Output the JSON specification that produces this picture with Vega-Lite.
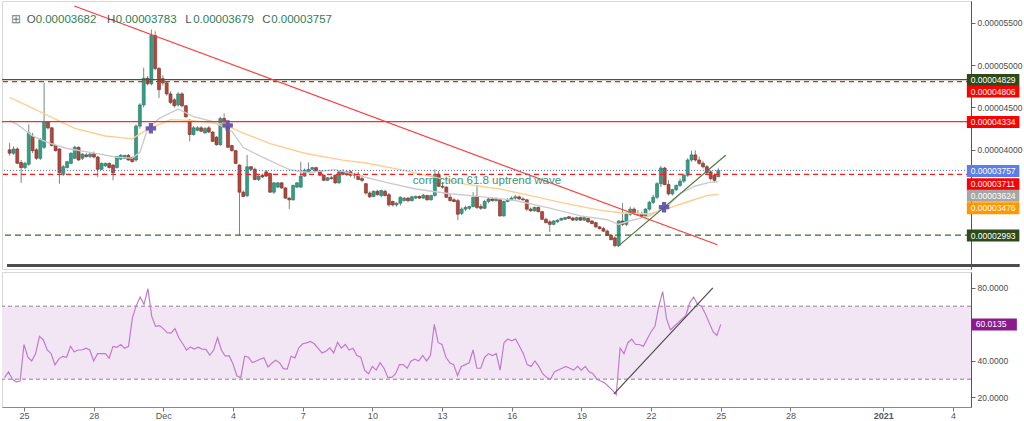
{
"$schema": "https://vega.github.io/schema/vega-lite/v6.json",
"padding": 0,
"background": "#ffffff",
"spacing": 1,
"config": {"font": "Liberation Sans", "view": {"stroke": "#d8d8d8"}, "axis": {"grid": false, "labelFont": "Liberation Sans"}},
"resolve": {"scale": {"x": "independent", "y": "independent"}},
"datasets": {
"candles": [
{"t":"2020-11-24T04:00Z","o":4000,"h":4080,"l":3930,"c":3960,"rsi":31},
{"t":"2020-11-24T08:00Z","o":3960,"h":4040,"l":3940,"c":4010,"rsi":34},
{"t":"2020-11-24T12:00Z","o":4010,"h":4030,"l":3830,"c":3842,"rsi":30},
{"t":"2020-11-24T16:00Z","o":3850,"h":3880,"l":3610,"c":3790,"rsi":28.6},
{"t":"2020-11-24T20:00Z","o":3790,"h":3860,"l":3770,"c":3840,"rsi":29},
{"t":"2020-11-25T00:00Z","o":3830,"h":4300,"l":3810,"c":4200,"rsi":49},
{"t":"2020-11-25T04:00Z","o":4160,"h":4200,"l":3960,"c":3990,"rsi":42},
{"t":"2020-11-25T08:00Z","o":4000,"h":4020,"l":3880,"c":3900,"rsi":40},
{"t":"2020-11-25T12:00Z","o":3900,"h":4140,"l":3880,"c":4120,"rsi":44},
{"t":"2020-11-25T16:00Z","o":4030,"h":4790,"l":4010,"c":4330,"rsi":53.5},
{"t":"2020-11-25T20:00Z","o":4330,"h":4340,"l":4240,"c":4260,"rsi":51.5},
{"t":"2020-11-26T00:00Z","o":4260,"h":4270,"l":4040,"c":4050,"rsi":46},
{"t":"2020-11-26T04:00Z","o":4050,"h":4060,"l":3980,"c":3990,"rsi":44},
{"t":"2020-11-26T08:00Z","o":4010,"h":4020,"l":3600,"c":3730,"rsi":37.8},
{"t":"2020-11-26T12:00Z","o":3710,"h":3820,"l":3690,"c":3800,"rsi":41},
{"t":"2020-11-26T16:00Z","o":3790,"h":3870,"l":3780,"c":3860,"rsi":42.5},
{"t":"2020-11-26T20:00Z","o":3840,"h":3970,"l":3830,"c":3960,"rsi":42},
{"t":"2020-11-27T00:00Z","o":3900,"h":4050,"l":3890,"c":4030,"rsi":48},
{"t":"2020-11-27T04:00Z","o":4030,"h":4040,"l":3870,"c":3880,"rsi":45},
{"t":"2020-11-27T08:00Z","o":3900,"h":3960,"l":3880,"c":3950,"rsi":46},
{"t":"2020-11-27T12:00Z","o":3940,"h":3960,"l":3910,"c":3920,"rsi":46},
{"t":"2020-11-27T16:00Z","o":3920,"h":3960,"l":3900,"c":3950,"rsi":47},
{"t":"2020-11-27T20:00Z","o":3955,"h":3980,"l":3900,"c":3915,"rsi":46},
{"t":"2020-11-28T00:00Z","o":3915,"h":3930,"l":3680,"c":3770,"rsi":40},
{"t":"2020-11-28T04:00Z","o":3770,"h":3850,"l":3760,"c":3840,"rsi":44},
{"t":"2020-11-28T08:00Z","o":3810,"h":3850,"l":3800,"c":3840,"rsi":44},
{"t":"2020-11-28T12:00Z","o":3840,"h":3850,"l":3780,"c":3790,"rsi":44},
{"t":"2020-11-28T16:00Z","o":3820,"h":3830,"l":3640,"c":3730,"rsi":41.5},
{"t":"2020-11-28T20:00Z","o":3790,"h":3930,"l":3780,"c":3920,"rsi":48},
{"t":"2020-11-29T00:00Z","o":3890,"h":3950,"l":3880,"c":3935,"rsi":47.5},
{"t":"2020-11-29T04:00Z","o":3900,"h":3940,"l":3890,"c":3935,"rsi":49},
{"t":"2020-11-29T08:00Z","o":3935,"h":3950,"l":3870,"c":3880,"rsi":47},
{"t":"2020-11-29T12:00Z","o":3910,"h":3920,"l":3850,"c":3860,"rsi":48},
{"t":"2020-11-29T16:00Z","o":3880,"h":4300,"l":3860,"c":4280,"rsi":63.6},
{"t":"2020-11-29T20:00Z","o":4280,"h":4550,"l":4250,"c":4530,"rsi":70.3},
{"t":"2020-11-30T00:00Z","o":4530,"h":4970,"l":4500,"c":4845,"rsi":75},
{"t":"2020-11-30T04:00Z","o":4845,"h":4870,"l":4760,"c":4780,"rsi":71},
{"t":"2020-11-30T08:00Z","o":4780,"h":5420,"l":4760,"c":5350,"rsi":79.6},
{"t":"2020-11-30T12:00Z","o":5350,"h":5400,"l":4940,"c":4960,"rsi":64.4},
{"t":"2020-11-30T16:00Z","o":4960,"h":4980,"l":4610,"c":4710,"rsi":59},
{"t":"2020-11-30T20:00Z","o":4840,"h":4880,"l":4760,"c":4790,"rsi":59.4},
{"t":"2020-12-01T00:00Z","o":4790,"h":4810,"l":4640,"c":4660,"rsi":57.7},
{"t":"2020-12-01T04:00Z","o":4660,"h":4690,"l":4540,"c":4560,"rsi":55.5},
{"t":"2020-12-01T08:00Z","o":4590,"h":4610,"l":4500,"c":4520,"rsi":55.2},
{"t":"2020-12-01T12:00Z","o":4530,"h":4680,"l":4510,"c":4660,"rsi":57.7},
{"t":"2020-12-01T16:00Z","o":4660,"h":4680,"l":4500,"c":4520,"rsi":52.7},
{"t":"2020-12-01T20:00Z","o":4520,"h":4530,"l":4380,"c":4390,"rsi":49.4},
{"t":"2020-12-02T00:00Z","o":4350,"h":4360,"l":4100,"c":4180,"rsi":46},
{"t":"2020-12-02T04:00Z","o":4180,"h":4280,"l":4170,"c":4260,"rsi":47.7},
{"t":"2020-12-02T08:00Z","o":4230,"h":4280,"l":4220,"c":4260,"rsi":46.5},
{"t":"2020-12-02T12:00Z","o":4260,"h":4280,"l":4210,"c":4220,"rsi":47.5},
{"t":"2020-12-02T16:00Z","o":4200,"h":4270,"l":4190,"c":4250,"rsi":46.5},
{"t":"2020-12-02T20:00Z","o":4260,"h":4280,"l":4200,"c":4210,"rsi":46.3},
{"t":"2020-12-03T00:00Z","o":4210,"h":4220,"l":4090,"c":4100,"rsi":43.1},
{"t":"2020-12-03T04:00Z","o":4150,"h":4160,"l":4050,"c":4060,"rsi":46},
{"t":"2020-12-03T08:00Z","o":4060,"h":4390,"l":4050,"c":4370,"rsi":52.7},
{"t":"2020-12-03T12:00Z","o":4370,"h":4430,"l":4320,"c":4330,"rsi":46},
{"t":"2020-12-03T16:00Z","o":4290,"h":4300,"l":4020,"c":4030,"rsi":42.6},
{"t":"2020-12-03T20:00Z","o":4050,"h":4060,"l":3980,"c":3990,"rsi":42.9},
{"t":"2020-12-04T00:00Z","o":3990,"h":4000,"l":3830,"c":3840,"rsi":38.3},
{"t":"2020-12-04T04:00Z","o":3820,"h":3830,"l":2993,"c":3500,"rsi":31.9},
{"t":"2020-12-04T08:00Z","o":3500,"h":3520,"l":3440,"c":3450,"rsi":30.8},
{"t":"2020-12-04T12:00Z","o":3460,"h":3940,"l":3440,"c":3800,"rsi":42.6},
{"t":"2020-12-04T16:00Z","o":3800,"h":3810,"l":3750,"c":3770,"rsi":42},
{"t":"2020-12-04T20:00Z","o":3770,"h":3790,"l":3640,"c":3650,"rsi":39.1},
{"t":"2020-12-05T00:00Z","o":3650,"h":3700,"l":3630,"c":3690,"rsi":40},
{"t":"2020-12-05T04:00Z","o":3700,"h":3720,"l":3670,"c":3680,"rsi":40.9},
{"t":"2020-12-05T08:00Z","o":3740,"h":3760,"l":3680,"c":3690,"rsi":41.7},
{"t":"2020-12-05T12:00Z","o":3720,"h":3730,"l":3490,"c":3500,"rsi":36.7},
{"t":"2020-12-05T16:00Z","o":3500,"h":3620,"l":3480,"c":3610,"rsi":38.7},
{"t":"2020-12-05T20:00Z","o":3560,"h":3620,"l":3550,"c":3610,"rsi":40.4},
{"t":"2020-12-06T00:00Z","o":3610,"h":3620,"l":3540,"c":3550,"rsi":39.1},
{"t":"2020-12-06T04:00Z","o":3550,"h":3560,"l":3420,"c":3430,"rsi":35.8},
{"t":"2020-12-06T08:00Z","o":3430,"h":3440,"l":3300,"c":3410,"rsi":35.5},
{"t":"2020-12-06T12:00Z","o":3410,"h":3590,"l":3400,"c":3580,"rsi":42.6},
{"t":"2020-12-06T16:00Z","o":3560,"h":3620,"l":3550,"c":3610,"rsi":41.7},
{"t":"2020-12-06T20:00Z","o":3560,"h":3860,"l":3550,"c":3690,"rsi":47.2},
{"t":"2020-12-07T00:00Z","o":3690,"h":3780,"l":3680,"c":3760,"rsi":49.4},
{"t":"2020-12-07T04:00Z","o":3740,"h":3850,"l":3730,"c":3770,"rsi":49.9},
{"t":"2020-12-07T08:00Z","o":3770,"h":3800,"l":3760,"c":3790,"rsi":50.7},
{"t":"2020-12-07T12:00Z","o":3790,"h":3800,"l":3740,"c":3750,"rsi":49.4},
{"t":"2020-12-07T16:00Z","o":3750,"h":3760,"l":3690,"c":3700,"rsi":46.9},
{"t":"2020-12-07T20:00Z","o":3700,"h":3710,"l":3630,"c":3640,"rsi":44.4},
{"t":"2020-12-08T00:00Z","o":3640,"h":3680,"l":3630,"c":3670,"rsi":45.3},
{"t":"2020-12-08T04:00Z","o":3670,"h":3690,"l":3650,"c":3660,"rsi":47.2},
{"t":"2020-12-08T08:00Z","o":3700,"h":3710,"l":3600,"c":3610,"rsi":44.4},
{"t":"2020-12-08T12:00Z","o":3610,"h":3760,"l":3600,"c":3740,"rsi":50.2},
{"t":"2020-12-08T16:00Z","o":3740,"h":3770,"l":3700,"c":3710,"rsi":47},
{"t":"2020-12-08T20:00Z","o":3710,"h":3760,"l":3690,"c":3740,"rsi":49},
{"t":"2020-12-09T00:00Z","o":3740,"h":3760,"l":3680,"c":3700,"rsi":46},
{"t":"2020-12-09T04:00Z","o":3700,"h":3730,"l":3660,"c":3710,"rsi":47},
{"t":"2020-12-09T08:00Z","o":3710,"h":3740,"l":3640,"c":3650,"rsi":43},
{"t":"2020-12-09T12:00Z","o":3660,"h":3700,"l":3620,"c":3640,"rsi":42},
{"t":"2020-12-09T16:00Z","o":3600,"h":3610,"l":3470,"c":3490,"rsi":35},
{"t":"2020-12-09T20:00Z","o":3490,"h":3510,"l":3430,"c":3445,"rsi":33},
{"t":"2020-12-10T00:00Z","o":3450,"h":3520,"l":3440,"c":3510,"rsi":37},
{"t":"2020-12-10T04:00Z","o":3510,"h":3530,"l":3460,"c":3470,"rsi":35},
{"t":"2020-12-10T08:00Z","o":3460,"h":3530,"l":3440,"c":3520,"rsi":39},
{"t":"2020-12-10T12:00Z","o":3510,"h":3530,"l":3450,"c":3460,"rsi":36},
{"t":"2020-12-10T16:00Z","o":3470,"h":3490,"l":3330,"c":3350,"rsi":31},
{"t":"2020-12-10T20:00Z","o":3390,"h":3400,"l":3330,"c":3350,"rsi":31},
{"t":"2020-12-11T00:00Z","o":3350,"h":3380,"l":3330,"c":3370,"rsi":33},
{"t":"2020-12-11T04:00Z","o":3370,"h":3450,"l":3340,"c":3440,"rsi":38},
{"t":"2020-12-11T08:00Z","o":3400,"h":3440,"l":3390,"c":3430,"rsi":38},
{"t":"2020-12-11T12:00Z","o":3430,"h":3440,"l":3380,"c":3400,"rsi":36},
{"t":"2020-12-11T16:00Z","o":3400,"h":3460,"l":3390,"c":3445,"rsi":40},
{"t":"2020-12-11T20:00Z","o":3430,"h":3460,"l":3420,"c":3450,"rsi":41},
{"t":"2020-12-12T00:00Z","o":3450,"h":3460,"l":3420,"c":3430,"rsi":40},
{"t":"2020-12-12T04:00Z","o":3430,"h":3480,"l":3420,"c":3465,"rsi":43},
{"t":"2020-12-12T08:00Z","o":3460,"h":3470,"l":3400,"c":3410,"rsi":40},
{"t":"2020-12-12T12:00Z","o":3410,"h":3470,"l":3400,"c":3460,"rsi":43},
{"t":"2020-12-12T16:00Z","o":3460,"h":3770,"l":3450,"c":3710,"rsi":60},
{"t":"2020-12-12T20:00Z","o":3710,"h":3750,"l":3560,"c":3570,"rsi":50},
{"t":"2020-12-13T00:00Z","o":3570,"h":3620,"l":3540,"c":3560,"rsi":49},
{"t":"2020-12-13T04:00Z","o":3560,"h":3570,"l":3430,"c":3440,"rsi":42},
{"t":"2020-12-13T08:00Z","o":3440,"h":3480,"l":3390,"c":3400,"rsi":39},
{"t":"2020-12-13T12:00Z","o":3410,"h":3430,"l":3380,"c":3390,"rsi":38},
{"t":"2020-12-13T16:00Z","o":3400,"h":3420,"l":3170,"c":3240,"rsi":32},
{"t":"2020-12-13T20:00Z","o":3250,"h":3320,"l":3230,"c":3300,"rsi":37},
{"t":"2020-12-14T00:00Z","o":3300,"h":3340,"l":3280,"c":3320,"rsi":38},
{"t":"2020-12-14T04:00Z","o":3310,"h":3340,"l":3290,"c":3330,"rsi":39},
{"t":"2020-12-14T08:00Z","o":3330,"h":3500,"l":3320,"c":3440,"rsi":46},
{"t":"2020-12-14T12:00Z","o":3450,"h":3580,"l":3300,"c":3320,"rsi":36},
{"t":"2020-12-14T16:00Z","o":3330,"h":3360,"l":3290,"c":3310,"rsi":36},
{"t":"2020-12-14T20:00Z","o":3310,"h":3410,"l":3300,"c":3390,"rsi":42},
{"t":"2020-12-15T00:00Z","o":3390,"h":3430,"l":3370,"c":3420,"rsi":44},
{"t":"2020-12-15T04:00Z","o":3420,"h":3440,"l":3390,"c":3400,"rsi":43},
{"t":"2020-12-15T08:00Z","o":3400,"h":3440,"l":3390,"c":3425,"rsi":44},
{"t":"2020-12-15T12:00Z","o":3410,"h":3420,"l":3210,"c":3220,"rsi":35},
{"t":"2020-12-15T16:00Z","o":3220,"h":3400,"l":3210,"c":3390,"rsi":50},
{"t":"2020-12-15T20:00Z","o":3390,"h":3430,"l":3380,"c":3410,"rsi":52},
{"t":"2020-12-16T00:00Z","o":3410,"h":3450,"l":3400,"c":3430,"rsi":51},
{"t":"2020-12-16T04:00Z","o":3430,"h":3470,"l":3410,"c":3445,"rsi":52},
{"t":"2020-12-16T08:00Z","o":3445,"h":3460,"l":3410,"c":3420,"rsi":48},
{"t":"2020-12-16T12:00Z","o":3420,"h":3440,"l":3400,"c":3410,"rsi":44},
{"t":"2020-12-16T16:00Z","o":3410,"h":3420,"l":3280,"c":3300,"rsi":38},
{"t":"2020-12-16T20:00Z","o":3300,"h":3320,"l":3270,"c":3280,"rsi":37},
{"t":"2020-12-17T00:00Z","o":3280,"h":3330,"l":3270,"c":3320,"rsi":40},
{"t":"2020-12-17T04:00Z","o":3320,"h":3330,"l":3260,"c":3270,"rsi":37},
{"t":"2020-12-17T08:00Z","o":3270,"h":3280,"l":3170,"c":3180,"rsi":33},
{"t":"2020-12-17T12:00Z","o":3180,"h":3200,"l":3130,"c":3140,"rsi":31},
{"t":"2020-12-17T16:00Z","o":3150,"h":3170,"l":3030,"c":3120,"rsi":30},
{"t":"2020-12-17T20:00Z","o":3120,"h":3170,"l":3110,"c":3160,"rsi":34},
{"t":"2020-12-18T00:00Z","o":3150,"h":3180,"l":3140,"c":3170,"rsi":35},
{"t":"2020-12-18T04:00Z","o":3170,"h":3200,"l":3160,"c":3190,"rsi":36},
{"t":"2020-12-18T08:00Z","o":3180,"h":3210,"l":3170,"c":3200,"rsi":37},
{"t":"2020-12-18T12:00Z","o":3210,"h":3220,"l":3180,"c":3190,"rsi":36},
{"t":"2020-12-18T16:00Z","o":3195,"h":3210,"l":3160,"c":3170,"rsi":35},
{"t":"2020-12-18T20:00Z","o":3170,"h":3210,"l":3160,"c":3200,"rsi":37},
{"t":"2020-12-19T00:00Z","o":3200,"h":3210,"l":3160,"c":3170,"rsi":35},
{"t":"2020-12-19T04:00Z","o":3170,"h":3210,"l":3160,"c":3200,"rsi":37},
{"t":"2020-12-19T08:00Z","o":3190,"h":3200,"l":3140,"c":3150,"rsi":34},
{"t":"2020-12-19T12:00Z","o":3160,"h":3170,"l":3120,"c":3130,"rsi":33},
{"t":"2020-12-19T16:00Z","o":3140,"h":3150,"l":3080,"c":3090,"rsi":30},
{"t":"2020-12-19T20:00Z","o":3090,"h":3100,"l":3060,"c":3070,"rsi":29},
{"t":"2020-12-20T00:00Z","o":3070,"h":3090,"l":3030,"c":3040,"rsi":28},
{"t":"2020-12-20T04:00Z","o":3040,"h":3060,"l":2980,"c":2990,"rsi":26},
{"t":"2020-12-20T08:00Z","o":2990,"h":3010,"l":2930,"c":2940,"rsi":24},
{"t":"2020-12-20T12:00Z","o":2960,"h":2980,"l":2850,"c":2870,"rsi":21.5},
{"t":"2020-12-20T16:00Z","o":2870,"h":3170,"l":2860,"c":3160,"rsi":47},
{"t":"2020-12-20T20:00Z","o":3160,"h":3370,"l":3100,"c":3120,"rsi":44},
{"t":"2020-12-21T00:00Z","o":3120,"h":3260,"l":3100,"c":3240,"rsi":50},
{"t":"2020-12-21T04:00Z","o":3240,"h":3330,"l":3220,"c":3300,"rsi":52},
{"t":"2020-12-21T08:00Z","o":3300,"h":3320,"l":3230,"c":3250,"rsi":49},
{"t":"2020-12-21T12:00Z","o":3250,"h":3290,"l":3220,"c":3240,"rsi":49},
{"t":"2020-12-21T16:00Z","o":3240,"h":3270,"l":3200,"c":3220,"rsi":48},
{"t":"2020-12-21T20:00Z","o":3220,"h":3310,"l":3200,"c":3300,"rsi":52},
{"t":"2020-12-22T00:00Z","o":3300,"h":3400,"l":3280,"c":3380,"rsi":56},
{"t":"2020-12-22T04:00Z","o":3380,"h":3470,"l":3360,"c":3440,"rsi":59},
{"t":"2020-12-22T08:00Z","o":3440,"h":3620,"l":3420,"c":3600,"rsi":70},
{"t":"2020-12-22T12:00Z","o":3600,"h":3810,"l":3560,"c":3785,"rsi":78},
{"t":"2020-12-22T16:00Z","o":3785,"h":3800,"l":3580,"c":3590,"rsi":63},
{"t":"2020-12-22T20:00Z","o":3590,"h":3640,"l":3460,"c":3480,"rsi":57},
{"t":"2020-12-23T00:00Z","o":3480,"h":3540,"l":3460,"c":3530,"rsi":59},
{"t":"2020-12-23T04:00Z","o":3530,"h":3590,"l":3510,"c":3580,"rsi":61},
{"t":"2020-12-23T08:00Z","o":3580,"h":3660,"l":3560,"c":3630,"rsi":63},
{"t":"2020-12-23T12:00Z","o":3630,"h":3720,"l":3610,"c":3700,"rsi":65},
{"t":"2020-12-23T16:00Z","o":3700,"h":3900,"l":3680,"c":3880,"rsi":72},
{"t":"2020-12-23T20:00Z","o":3880,"h":3990,"l":3860,"c":3940,"rsi":75},
{"t":"2020-12-24T00:00Z","o":3940,"h":3995,"l":3860,"c":3880,"rsi":71},
{"t":"2020-12-24T04:00Z","o":3880,"h":3920,"l":3820,"c":3840,"rsi":70},
{"t":"2020-12-24T08:00Z","o":3840,"h":3870,"l":3780,"c":3800,"rsi":66},
{"t":"2020-12-24T12:00Z","o":3800,"h":3820,"l":3710,"c":3730,"rsi":61},
{"t":"2020-12-24T16:00Z","o":3740,"h":3760,"l":3640,"c":3660,"rsi":56},
{"t":"2020-12-24T20:00Z","o":3700,"h":3720,"l":3610,"c":3640,"rsi":54},
{"t":"2020-12-25T00:00Z","o":3682,"h":3783,"l":3679,"c":3757,"rsi":60.0135}
],
"ma_gray": [
{"t":"2020-11-24T04:00Z","v":4345},{"t":"2020-11-24T12:00Z","v":4300},{"t":"2020-11-25T04:00Z","v":4163},{"t":"2020-11-25T20:00Z","v":4084},
{"t":"2020-11-26T16:00Z","v":4016},{"t":"2020-11-27T16:00Z","v":3970},{"t":"2020-11-28T20:00Z","v":3913},{"t":"2020-11-29T12:00Z","v":3902},
{"t":"2020-11-29T20:00Z","v":3970},{"t":"2020-11-30T04:00Z","v":4243},{"t":"2020-11-30T16:00Z","v":4368},{"t":"2020-12-01T12:00Z","v":4482},
{"t":"2020-12-02T04:00Z","v":4391},{"t":"2020-12-03T00:00Z","v":4334},{"t":"2020-12-03T20:00Z","v":4220},{"t":"2020-12-04T08:00Z","v":4027},
{"t":"2020-12-05T04:00Z","v":3913},{"t":"2020-12-06T08:00Z","v":3766},{"t":"2020-12-07T04:00Z","v":3732},{"t":"2020-12-08T08:00Z","v":3766},
{"t":"2020-12-09T12:00Z","v":3686},{"t":"2020-12-10T12:00Z","v":3618},{"t":"2020-12-11T20:00Z","v":3538},{"t":"2020-12-13T08:00Z","v":3482},
{"t":"2020-12-14T16:00Z","v":3448},{"t":"2020-12-16T04:00Z","v":3402},{"t":"2020-12-17T16:00Z","v":3311},{"t":"2020-12-19T00:00Z","v":3220},
{"t":"2020-12-20T04:00Z","v":3175},{"t":"2020-12-20T16:00Z","v":3118},{"t":"2020-12-21T04:00Z","v":3163},{"t":"2020-12-22T00:00Z","v":3220},
{"t":"2020-12-22T20:00Z","v":3345},{"t":"2020-12-23T08:00Z","v":3482},{"t":"2020-12-24T00:00Z","v":3573},{"t":"2020-12-24T16:00Z","v":3618},
{"t":"2020-12-25T00:00Z","v":3624}
],
"ma_orange": [
{"t":"2020-11-24T04:00Z","v":4618},{"t":"2020-11-25T12:00Z","v":4448},{"t":"2020-11-27T00:00Z","v":4254},{"t":"2020-11-28T08:00Z","v":4163},
{"t":"2020-11-29T12:00Z","v":4129},{"t":"2020-11-30T04:00Z","v":4243},{"t":"2020-12-01T04:00Z","v":4357},{"t":"2020-12-02T04:00Z","v":4345},
{"t":"2020-12-03T12:00Z","v":4300},{"t":"2020-12-04T08:00Z","v":4198},{"t":"2020-12-05T12:00Z","v":4073},{"t":"2020-12-07T00:00Z","v":3959},
{"t":"2020-12-08T16:00Z","v":3879},{"t":"2020-12-09T16:00Z","v":3845},{"t":"2020-12-11T04:00Z","v":3766},{"t":"2020-12-14T00:00Z","v":3595},
{"t":"2020-12-15T12:00Z","v":3538},{"t":"2020-12-16T20:00Z","v":3459},{"t":"2020-12-18T08:00Z","v":3368},{"t":"2020-12-19T20:00Z","v":3288},
{"t":"2020-12-20T20:00Z","v":3254},{"t":"2020-12-22T00:00Z","v":3243},{"t":"2020-12-22T20:00Z","v":3311},{"t":"2020-12-23T20:00Z","v":3402},
{"t":"2020-12-24T12:00Z","v":3459},{"t":"2020-12-25T00:00Z","v":3476}
],
"levels": [
{"name":"Resistance 4829","p":4829},{"name":"Resistance 4806","p":4806},{"name":"Resistance 4334","p":4334},
{"name":"Last price 3757","p":3757},{"name":"Support 3711","p":3711},{"name":"Support 2993","p":2993}
],
"trend_down": [{"t":"2020-11-26T23:30Z","p":5698},{"t":"2020-12-24T23:00Z","p":2879}],
"trend_up": [{"t":"2020-12-20T14:50Z","p":2857},{"t":"2020-12-25T07:40Z","p":3936}],
"rsi_trend": [{"t":"2020-12-20T09:40Z","v":22},{"t":"2020-12-24T15:50Z","v":80}],
"crosses": [{"t":"2020-11-30T07:30Z","p":4254},{"t":"2020-12-03T15:40Z","p":4288},{"t":"2020-12-22T15:20Z","p":3323}],
"notes": [{"t":"2020-12-11T17:00Z","p":3629,"text":"correction 61.8 uptrend wave"}],
"ohlc": [
{"t":"2020-11-24T05:30Z","s":"⊞","k":"icon"},
{"t":"2020-11-24T22:00Z","s":"O","k":"key"},
{"t":"2020-11-25T07:10Z","s":"0.00003682","k":"val"},
{"t":"2020-11-28T09:40Z","s":"H","k":"key"},
{"t":"2020-11-28T18:50Z","s":"0.00003783","k":"val"},
{"t":"2020-12-01T19:20Z","s":"L","k":"key"},
{"t":"2020-12-02T03:40Z","s":"0.00003679","k":"val"},
{"t":"2020-12-05T03:50Z","s":"C","k":"key"},
{"t":"2020-12-05T13:10Z","s":"0.00003757","k":"val"}
],
"tags": [
{"lab":"0.00004829","p":4829},{"lab":"0.00004806","p":4806},{"lab":"0.00004334","p":4334},{"lab":"0.00003757","p":3757},
{"lab":"0.00003711","p":3711},{"lab":"0.00003624","p":3624},{"lab":"0.00003476","p":3476},{"lab":"0.00002993","p":2993}
],
"rsi_tag": [{"lab":"60.0135","v":60.0135}]
},
"vconcat": [
{
"width": 969,
"height": 268,
"resolve": {"scale": {"color": "independent"}},
"layer": [
{"data": {"name": "candles"},
 "mark": {"type": "rule", "color": "#76897f", "strokeWidth": 1},
 "encoding": {
  "x": {"field": "t", "type": "temporal", "title": null,
        "scale": {"type": "utc", "nice": false, "domain": [{"year":2020,"month":11,"date":24,"hours":1,"minutes":16,"utc":true},{"year":2021,"month":1,"date":4,"hours":18,"minutes":36,"utc":true}]},
        "axis": null},
  "y": {"field": "l", "type": "quantitative", "title": null,
        "scale": {"domain": [2652, 5698], "zero": false, "nice": false},
        "axis": {"orient": "right", "values": [4000, 4500, 5000, 5500], "labelExpr": "format(datum.value/100000000, '.8f')", "grid": false, "title": null, "tickSize": 4, "tickColor": "#666", "domainColor": "#555", "labelColor": "#4a4a4a", "labelFontSize": 8.5, "labelPadding": 2}},
  "y2": {"field": "h"}
 }},
{"data": {"name": "candles"},
 "mark": {"type": "bar", "orient": "vertical", "size": 3, "strokeWidth": 0.6},
 "encoding": {
  "x": {"field": "t", "type": "temporal", "title": null},
  "y": {"field": "o", "type": "quantitative", "title": null},
  "y2": {"field": "c"},
  "color": {"condition": {"test": "datum.c >= datum.o", "value": "#2aa18b"}, "value": "#b4473a"},
  "stroke": {"condition": {"test": "datum.c >= datum.o", "value": "#3b6b5d"}, "value": "#6f2f28"}
 }},
{"data": {"name": "ma_gray"},
 "mark": {"type": "line", "color": "#cbcbcb", "strokeWidth": 1.4},
 "encoding": {"x": {"field": "t", "type": "temporal", "title": null}, "y": {"field": "v", "type": "quantitative", "title": null}}},
{"data": {"name": "ma_orange"},
 "mark": {"type": "line", "color": "#ffcd8f", "strokeWidth": 1.4},
 "encoding": {"x": {"field": "t", "type": "temporal", "title": null}, "y": {"field": "v", "type": "quantitative", "title": null}}},
{"data": {"name": "levels"},
 "transform": [{"filter": {"field": "name", "equal": "Resistance 4829"}}],
 "mark": {"type": "rule", "strokeWidth": 1.2, "color": "#3b5e2b"},
 "encoding": {"y": {"field": "p", "type": "quantitative", "title": null}}},
{"data": {"name": "levels"},
 "transform": [{"filter": {"field": "name", "oneOf": ["Resistance 4806", "Support 3711"]}}],
 "mark": {"type": "rule", "strokeWidth": 1.2, "color": "#ff1a1a", "strokeDash": [5, 4]},
 "encoding": {"y": {"field": "p", "type": "quantitative", "title": null}}},
{"data": {"name": "levels"},
 "transform": [{"filter": {"field": "name", "equal": "Resistance 4334"}}],
 "mark": {"type": "rule", "strokeWidth": 1.2, "color": "#ff2a2a"},
 "encoding": {"y": {"field": "p", "type": "quantitative", "title": null}}},
{"data": {"name": "levels"},
 "transform": [{"filter": {"field": "name", "equal": "Last price 3757"}}],
 "mark": {"type": "rule", "strokeWidth": 1, "color": "#4a6fe3", "strokeDash": [1, 2]},
 "encoding": {"y": {"field": "p", "type": "quantitative", "title": null}}},
{"data": {"name": "levels"},
 "transform": [{"filter": {"field": "name", "equal": "Support 2993"}}],
 "mark": {"type": "rule", "strokeWidth": 1.2, "color": "#3b6b2b", "strokeDash": [6, 4]},
 "encoding": {"y": {"field": "p", "type": "quantitative", "title": null}}},
{"data": {"name": "trend_down"},
 "mark": {"type": "line", "color": "#ff3b3b", "strokeWidth": 1.2, "clip": true},
 "encoding": {"x": {"field": "t", "type": "temporal", "title": null}, "y": {"field": "p", "type": "quantitative", "title": null}}},
{"data": {"name": "trend_up"},
 "mark": {"type": "line", "color": "#4f7a3c", "strokeWidth": 1.2, "clip": true},
 "encoding": {"x": {"field": "t", "type": "temporal", "title": null}, "y": {"field": "p", "type": "quantitative", "title": null}}},
{"data": {"name": "crosses"},
 "mark": {"type": "point", "shape": "cross", "filled": true, "size": 110, "color": "#5c4da6", "opacity": 0.9},
 "encoding": {"x": {"field": "t", "type": "temporal", "title": null}, "y": {"field": "p", "type": "quantitative", "title": null}}},
{"data": {"name": "notes"},
 "mark": {"type": "text", "align": "left", "baseline": "middle", "fontSize": 11.5, "color": "#3a9482"},
 "encoding": {"x": {"field": "t", "type": "temporal", "title": null}, "y": {"field": "p", "type": "quantitative", "title": null}, "text": {"field": "text"}}},
{"data": {"name": "ohlc"},
 "mark": {"type": "text", "align": "left", "baseline": "middle", "fontSize": 11.5},
 "encoding": {
  "x": {"field": "t", "type": "temporal", "title": null},
  "y": {"datum": 5538, "type": "quantitative"},
  "text": {"field": "s"},
  "color": {"field": "k", "type": "nominal", "legend": null, "scale": {"domain": ["icon","key","val"], "range": ["#777777","#555555","#2e7d57"]}}
 }},
{"data": {"values": [{}]},
 "mark": {"type": "rule", "color": "#4d4d4d", "strokeWidth": 3},
 "encoding": {
  "x": {"datum": {"year":2020,"month":11,"date":24,"hours":1,"minutes":16,"utc":true}, "type": "temporal"},
  "x2": {"datum": {"year":2021,"month":1,"date":7,"hours":2,"minutes":40,"utc":true}},
  "y": {"datum": 2635, "type": "quantitative"}
 }},
{"data": {"name": "tags"},
 "transform": [{"filter": {"field": "lab", "oneOf": ["0.00004829","0.00004334","0.00003757","0.00002993"]}}],
 "layer": [
  {"mark": {"type": "bar", "orient": "horizontal", "size": 12, "yOffset": 0.5},
   "encoding": {
    "x": {"datum": {"year":2021,"month":1,"date":4,"hours":19,"minutes":30,"utc":true}, "type": "temporal"},
    "x2": {"datum": {"year":2021,"month":1,"date":7,"hours":2,"minutes":20,"utc":true}},
    "y": {"field": "p", "type": "quantitative", "title": null},
    "color": {"field": "lab", "type": "nominal", "legend": null,
              "scale": {"domain": ["0.00004829","0.00004806","0.00004334","0.00003757","0.00003711","0.00003624","0.00003476","0.00002993"],
                        "range": ["#2e4a1a","#ff0000","#ff0000","#5b7fe8","#ff0000","#a6a6a6","#ff9800","#2e4a1a"]}}
   }},
  {"mark": {"type": "text", "align": "left", "baseline": "middle", "fontSize": 8.5, "color": "#ffffff", "yOffset": 0.5},
   "encoding": {
    "x": {"datum": {"year":2021,"month":1,"date":4,"hours":23,"minutes":30,"utc":true}, "type": "temporal"},
    "y": {"field": "p", "type": "quantitative", "title": null},
    "text": {"field": "lab"}
   }}
 ]},
{"data": {"name": "tags"},
 "transform": [{"filter": {"field": "lab", "oneOf": ["0.00004806","0.00003711"]}}],
 "layer": [
  {"mark": {"type": "bar", "orient": "horizontal", "size": 12, "yOffset": 10},
   "encoding": {
    "x": {"datum": {"year":2021,"month":1,"date":4,"hours":19,"minutes":30,"utc":true}, "type": "temporal"},
    "x2": {"datum": {"year":2021,"month":1,"date":7,"hours":2,"minutes":20,"utc":true}},
    "y": {"field": "p", "type": "quantitative", "title": null},
    "color": {"field": "lab", "type": "nominal", "legend": null,
              "scale": {"domain": ["0.00004829","0.00004806","0.00004334","0.00003757","0.00003711","0.00003624","0.00003476","0.00002993"],
                        "range": ["#2e4a1a","#ff0000","#ff0000","#5b7fe8","#ff0000","#a6a6a6","#ff9800","#2e4a1a"]}}
   }},
  {"mark": {"type": "text", "align": "left", "baseline": "middle", "fontSize": 8.5, "color": "#ffffff", "yOffset": 10},
   "encoding": {
    "x": {"datum": {"year":2021,"month":1,"date":4,"hours":23,"minutes":30,"utc":true}, "type": "temporal"},
    "y": {"field": "p", "type": "quantitative", "title": null},
    "text": {"field": "lab"}
   }}
 ]},
{"data": {"name": "tags"},
 "transform": [{"filter": {"field": "lab", "oneOf": ["0.00003624","0.00003476"]}}],
 "layer": [
  {"mark": {"type": "bar", "orient": "horizontal", "size": 12, "yOffset": 14},
   "encoding": {
    "x": {"datum": {"year":2021,"month":1,"date":4,"hours":19,"minutes":30,"utc":true}, "type": "temporal"},
    "x2": {"datum": {"year":2021,"month":1,"date":7,"hours":2,"minutes":20,"utc":true}},
    "y": {"field": "p", "type": "quantitative", "title": null},
    "color": {"field": "lab", "type": "nominal", "legend": null,
              "scale": {"domain": ["0.00004829","0.00004806","0.00004334","0.00003757","0.00003711","0.00003624","0.00003476","0.00002993"],
                        "range": ["#2e4a1a","#ff0000","#ff0000","#5b7fe8","#ff0000","#a6a6a6","#ff9800","#2e4a1a"]}}
   }},
  {"mark": {"type": "text", "align": "left", "baseline": "middle", "fontSize": 8.5, "color": "#ffffff", "yOffset": 14},
   "encoding": {
    "x": {"datum": {"year":2021,"month":1,"date":4,"hours":23,"minutes":30,"utc":true}, "type": "temporal"},
    "y": {"field": "p", "type": "quantitative", "title": null},
    "text": {"field": "lab"}
   }}
 ]}
]
},
{
"width": 969,
"height": 135,
"layer": [
{"data": {"values": [{}]},
 "mark": {"type": "rect", "color": "#f2e6f5"},
 "encoding": {
  "x": {"datum": {"year":2020,"month":11,"date":24,"hours":1,"minutes":16,"utc":true}, "type": "temporal",
        "scale": {"type": "utc", "nice": false, "domain": [{"year":2020,"month":11,"date":24,"hours":1,"minutes":16,"utc":true},{"year":2021,"month":1,"date":4,"hours":18,"minutes":36,"utc":true}]},
        "axis": {"orient": "bottom", "title": null, "grid": false, "tickSize": 4, "tickColor": "#777", "domainColor": "#8a8a8a", "labelColor": "#555", "labelFontSize": 9, "labelPadding": 0, "labelFlush": false, "labelOverlap": false,
                 "values": [{"year":2020,"month":11,"date":25,"utc":true},{"year":2020,"month":11,"date":28,"utc":true},{"year":2020,"month":12,"date":1,"utc":true},{"year":2020,"month":12,"date":4,"utc":true},{"year":2020,"month":12,"date":7,"utc":true},{"year":2020,"month":12,"date":10,"utc":true},{"year":2020,"month":12,"date":13,"utc":true},{"year":2020,"month":12,"date":16,"utc":true},{"year":2020,"month":12,"date":19,"utc":true},{"year":2020,"month":12,"date":22,"utc":true},{"year":2020,"month":12,"date":25,"utc":true},{"year":2020,"month":12,"date":28,"utc":true},{"year":2021,"month":1,"date":1,"utc":true},{"year":2021,"month":1,"date":4,"utc":true}],
                 "labelExpr": "utcdate(datum.value) == 1 ? (utcmonth(datum.value) == 0 ? '2021' : 'Dec') : ('' + utcdate(datum.value))",
                 "labelFontWeight": {"condition": {"test": "utcmonth(datum.value) == 0 && utcdate(datum.value) == 1", "value": "bold"}, "value": "normal"}}},
  "x2": {"datum": {"year":2021,"month":1,"date":4,"hours":18,"minutes":36,"utc":true}},
  "y": {"datum": 30, "type": "quantitative",
        "scale": {"domain": [17.5, 86], "zero": false, "nice": false},
        "axis": {"orient": "right", "values": [20, 40, 60, 80], "format": ".4f", "title": null, "grid": false, "tickSize": 4, "tickColor": "#666", "domainColor": "#555", "labelColor": "#4a4a4a", "labelFontSize": 8.5, "labelPadding": 2}},
  "y2": {"datum": 70}
 }},
{"data": {"values": [{"lvl": 70}, {"lvl": 30}]},
 "mark": {"type": "rule", "color": "#8f8090", "strokeDash": [4, 3], "strokeWidth": 1},
 "encoding": {"y": {"field": "lvl", "type": "quantitative", "title": null}}},
{"data": {"name": "candles"},
 "mark": {"type": "line", "color": "#c27ad0", "strokeWidth": 1.2},
 "encoding": {"x": {"field": "t", "type": "temporal", "title": null}, "y": {"field": "rsi", "type": "quantitative", "title": null}}},
{"data": {"name": "rsi_trend"},
 "mark": {"type": "line", "color": "#4a4f44", "strokeWidth": 1.2},
 "encoding": {"x": {"field": "t", "type": "temporal", "title": null}, "y": {"field": "v", "type": "quantitative", "title": null}}},
{"data": {"name": "rsi_tag"},
 "layer": [
  {"mark": {"type": "bar", "orient": "horizontal", "size": 12, "color": "#8b1a8b"},
   "encoding": {
    "x": {"datum": {"year":2021,"month":1,"date":4,"hours":19,"minutes":30,"utc":true}, "type": "temporal"},
    "x2": {"datum": {"year":2021,"month":1,"date":6,"hours":18,"minutes":0,"utc":true}},
    "y": {"field": "v", "type": "quantitative", "title": null}
   }},
  {"mark": {"type": "text", "align": "left", "baseline": "middle", "fontSize": 8.5, "color": "#ffffff"},
   "encoding": {
    "x": {"datum": {"year":2021,"month":1,"date":4,"hours":23,"minutes":30,"utc":true}, "type": "temporal"},
    "y": {"field": "v", "type": "quantitative", "title": null},
    "text": {"field": "lab"}
   }}
 ]}
]
}
]
}
